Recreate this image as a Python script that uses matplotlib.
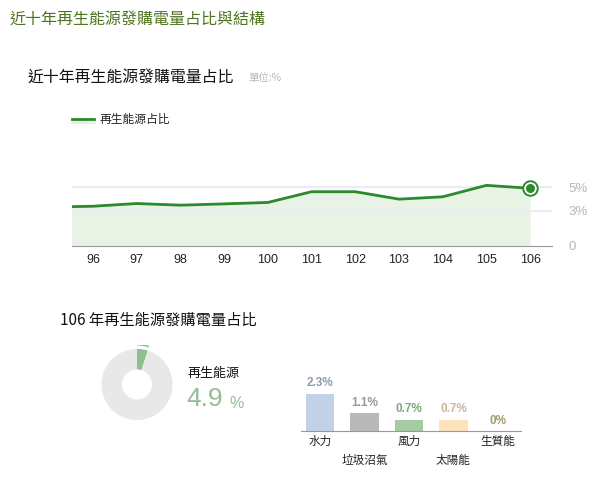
# renewable share chart - line over ten years, donut and breakdown bars
import numpy as np
import matplotlib
matplotlib.use('Agg')
import matplotlib.pyplot as plt
from matplotlib.patches import Wedge
from matplotlib.lines import Line2D

plt.rcParams['font.family'] = ['Noto Sans CJK TC', 'DejaVu Sans']
NUM = ['Liberation Sans', 'Noto Sans CJK TC']

# data
years = [95, 96, 97, 98, 99, 100, 101, 102, 103, 104, 105, 106]
share = [3.3, 3.37, 3.6, 3.46, 3.57, 3.69, 4.6, 4.6, 3.97, 4.17, 5.14, 4.89]
year_ticks = [96, 97, 98, 99, 100, 101, 102, 103, 104, 105, 106]
y_ticks = [0, 3, 5]
y_labels = ['0', '3%', '5%']

donut_vals = [4.9, 95.1]

cats = ['水力', '垃圾沼氣', '風力', '太陽能', '生質能']
cat_vals = [2.3, 1.1, 0.7, 0.7, 0.0]
bar_cols = ['#c0d1e8', '#b9b9b9', '#a5cba2', '#fde2bb', '#c8c89a']
lab_cols = ['#8d9bb0', '#9a9a9a', '#7ea77a', '#cbb79e', '#a39d70']

W, H = 596, 482
fig = plt.figure(figsize=(W / 100, H / 100), dpi=100)

def fx(x):
    return x / W

def fy(y):
    return 1 - y / H

def box(x0, y0, x1, y1):
    # pixel box (top-left origin) -> figure rect
    return [fx(x0), fy(y1), fx(x1) - fx(x0), fy(y0) - fy(y1)]

# titles
fig.text(fx(10), fy(19), '近十年再生能源發購電量占比與結構', fontsize=11.5,
         color='#4f7420', va='center')
fig.text(fx(28), fy(77), '近十年再生能源發購電量占比', fontsize=11.4,
         color='#111111', va='center')
fig.text(fx(248), fy(78), '單位:%', fontsize=7.5, color='#b8b8b8', va='center')

# legend
fig.add_artist(Line2D([fx(72), fx(94)], [fy(121.5), fy(121.5)], color='#e3f0e0', lw=2))
fig.add_artist(Line2D([fx(72), fx(94)], [fy(119), fy(119)], color='#2b8a2b', lw=2))
fig.text(fx(100), fy(119), '再生能源占比', fontsize=8.5, color='#222222', va='center')

# line chart
ax = fig.add_axes(box(72, 170, 552, 246))
ax.fill_between(years, share, 0, color='#e8f3e5', lw=0, zorder=1)
for t in [3, 5]:
    ax.axhline(t, color='#ebebf5', lw=1.5, zorder=2)
ax.plot(years, share, color='#2b8a2b', lw=2, zorder=3, solid_capstyle='round')
ax.scatter([years[-1]], [share[-1]], s=110, facecolor='white', edgecolor='#2b8a2b',
           linewidth=1.4, zorder=4)
ax.scatter([years[-1]], [share[-1]], s=30, color='#2b8a2b', zorder=5)
ax.set_xlim(95.52, 106.5)
ax.set_ylim(0, (246 - 170) / 11.8)
ax.set_xticks(year_ticks)
ax.set_xticklabels([str(y) for y in year_ticks], fontsize=9, color='#222222',
                   family=NUM)
ax.yaxis.tick_right()
ax.set_yticks(y_ticks)
ax.set_yticklabels(y_labels, fontsize=9.5, color='#b5b5b5', family=NUM)
ax.tick_params(length=0)
ax.tick_params(axis='x', pad=6)
ax.tick_params(axis='y', pad=12)
for s in ['top', 'left', 'right']:
    ax.spines[s].set_visible(False)
ax.spines['bottom'].set_color('#999999')
ax.patch.set_alpha(0)

# donut section
fig.text(fx(60), fy(320), '106 年再生能源發購電量占比', fontsize=11, color='#111111',
         va='center')
dax = fig.add_axes(box(97, 344.5, 177, 424.5))
dax.pie(donut_vals, colors=['#8fbf8f', '#e8e8e8'], startangle=90, counterclock=False,
        radius=1, wedgeprops=dict(width=0.577, linewidth=0))
dax.add_patch(Wedge((0, 0), 1.14, 90 - 360 * donut_vals[0] / 100, 90, width=0.045,
                    color='#8fbf8f', lw=0))
dax.set_xlim(-1.125, 1.125)
dax.set_ylim(-1.125, 1.125)
dax.set_aspect('equal')
dax.axis('off')

fig.text(fx(187), fy(373), '再生能源', fontsize=9.4, color='#111111', va='center')
fig.text(fx(186), fy(399), f'{donut_vals[0]}', fontsize=19, color='#93bf93',
         va='center', family=NUM)
fig.text(fx(229), fy(403), '%', fontsize=11.5, color='#93bf93', va='center',
         family=NUM)

# bar chart
bax = fig.add_axes(box(301, 380, 521, 431))
xs = np.arange(len(cats))
bax.bar(xs, cat_vals, width=0.63, color=bar_cols, zorder=2)
for i, v in enumerate(cat_vals):
    lab = f'{v:g}%'
    bax.annotate(lab, (i, v), xytext=(0, 3), textcoords='offset points', ha='center',
                 va='bottom', fontsize=8.5, fontweight='bold', color=lab_cols[i],
                 family=NUM, annotation_clip=False)
    off = 7.2 if i % 2 == 0 else 20.9
    bax.annotate(cats[i], (i, 0), xytext=(0, -off), textcoords='offset points',
                 ha='center', va='center', fontsize=8.4, color='#222222',
                 annotation_clip=False)
bax.set_xlim(-0.427, 4.517)
bax.set_ylim(0, 51 / 16.3)
bax.set_xticks([])
bax.set_yticks([])
for s in ['top', 'left', 'right']:
    bax.spines[s].set_visible(False)
bax.spines['bottom'].set_color('#999999')
bax.patch.set_alpha(0)

plt.savefig('out.png', dpi=100)
